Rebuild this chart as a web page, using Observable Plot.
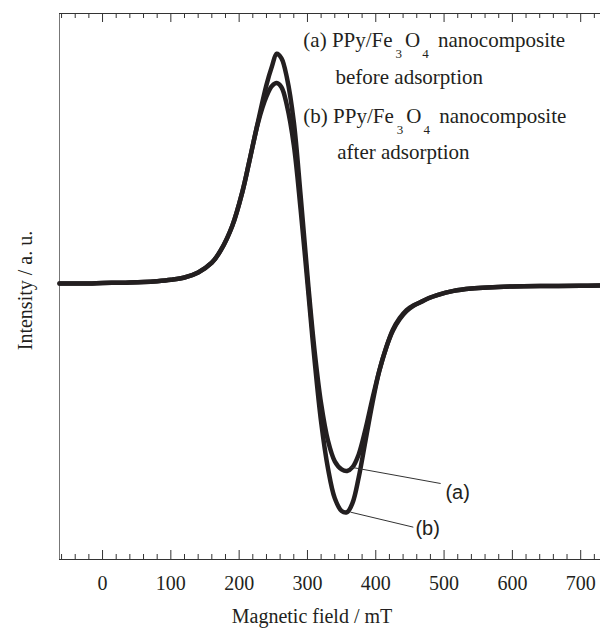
<!DOCTYPE html>
<html><head><meta charset="utf-8">
<script src="https://cdn.jsdelivr.net/npm/d3@7"></script>
<script src="https://cdn.jsdelivr.net/npm/@observablehq/plot@0.6"></script>
<style>body{margin:0;background:#fff;}</style>
</head><body><div id="chart"></div>
<script>
// Magnetic field (mT) sample positions
const field = [-63,-40,-20,0,20,40,60,80,100,120,140,160,173,190,205,215,228,240,248,255,262,270,280,290,301,310,320,330,340,350,358,366,375,385,395,405,415,425,435,445,455,466,478,490,514,540,564,600,650,700,729];
// (a) before adsorption
const intensityA = [0,0,0,0.002,0.003,0.004,0.006,0.01,0.016,0.026,0.048,0.09,0.143,0.25,0.40,0.53,0.706,0.86,0.94,0.995,0.975,0.89,0.70,0.38,0,-0.28,-0.52,-0.68,-0.77,-0.805,-0.812,-0.795,-0.74,-0.63,-0.50,-0.38,-0.28,-0.20,-0.15,-0.115,-0.095,-0.08,-0.063,-0.05,-0.032,-0.022,-0.017,-0.013,-0.011,-0.01,-0.009];
// (b) after adsorption
const intensityB = [0,0,0,0.002,0.003,0.004,0.006,0.01,0.016,0.026,0.048,0.09,0.143,0.25,0.40,0.53,0.70,0.81,0.855,0.868,0.85,0.77,0.60,0.32,-0.03,-0.32,-0.60,-0.80,-0.93,-0.985,-0.99,-0.95,-0.84,-0.68,-0.52,-0.38,-0.28,-0.205,-0.155,-0.12,-0.097,-0.08,-0.063,-0.05,-0.032,-0.022,-0.017,-0.013,-0.011,-0.01,-0.009];

const majorTicks = [0,100,200,300,400,500,600,700];
const minorTicks = [-60,-40,-20,20,40,60,80,120,140,160,180,220,240,260,280,320,340,360,380,420,440,460,480,520,540,560,580,620,640,660,680,720];

const legendText = ["(a) PPy/Fe3O4 nanocomposite","before adsorption","(b) PPy/Fe3O4 nanocomposite","after adsorption"];
const legendX = [294,341,294,343.6];
const legendY = [1.054,0.895,0.722,0.570];

const calloutLabels = ["(a)","(b)"];
const calloutFrom = [[363,-0.795],[363,-0.99]];
const calloutTo = [[495,-0.866],[455,-1.055]];
const calloutText = [[502,-0.905],[458,-1.06]];

const xTitle = "Magnetic field / mT";
const yTitle = "Intensity / a. u.";

const series = [
  ...field.map((x,i)=>({x, y:intensityA[i], s:"a"})),
  ...field.map((x,i)=>({x, y:intensityB[i], s:"b"}))
];
const legend = legendText.map((t,i)=>({t, x:legendX[i], y:legendY[i]}));
const callouts = calloutLabels.map((t,i)=>({t, x1:calloutFrom[i][0], y1:calloutFrom[i][1], x2:calloutTo[i][0], y2:calloutTo[i][1], tx:calloutText[i][0], ty:calloutText[i][1]}));

const H = 628, mT = 13, mB = 69;
const plotH = H - mT - mB;
const ink = "#231f20";

const chart = Plot.plot({
  width: 600, height: H,
  marginLeft: 59, marginRight: 0, marginTop: mT, marginBottom: mB,
  style: {fontFamily: "'Liberation Serif','Times New Roman',serif", fontSize: "20px", background: "#fff", color: ink, overflow: "visible"},
  x: {domain: [-63, 729]},
  y: {domain: [-1.195, 1.169], axis: null},
  marks: [
    Plot.frame({anchor: "left", stroke: "#777"}),
    Plot.frame({anchor: "top", stroke: "#333"}),
    Plot.frame({anchor: "bottom", stroke: "#333"}),
    Plot.tickX(majorTicks, {insetTop: plotH - 9, stroke: "#333"}),
    Plot.tickX(minorTicks, {insetTop: plotH - 5, stroke: "#333"}),
    Plot.tickX(majorTicks, {insetBottom: plotH - 9, stroke: "#333"}),
    Plot.tickX(minorTicks, {insetBottom: plotH - 5, stroke: "#333"}),
    Plot.axisX({ticks: majorTicks, tickSize: 0, tickPadding: 16, label: null, fontSize: 20}),
    Plot.text([xTitle], {frameAnchor: "bottom", textAnchor: "middle", lineAnchor: "middle", dx: -18, dy: 57, fontSize: 20, fill: ink}),
    Plot.text([yTitle], {frameAnchor: "left", textAnchor: "middle", lineAnchor: "middle", dx: -34, dy: 4, rotate: -90, fontSize: 20, fill: ink}),
    Plot.line(series, {x: "x", y: "y", z: "s", stroke: ink, strokeWidth: 4.5, curve: "catmull-rom"}),
    Plot.link(callouts, {x1: "x1", y1: "y1", x2: "x2", y2: "y2", stroke: "#333", strokeWidth: 1}),
    Plot.text(callouts, {x: "tx", y: "ty", text: "t", textAnchor: "start", fontFamily: "'Liberation Sans',Arial,sans-serif", fontSize: 20, fill: ink}),
    Plot.text(legend, {x: "x", y: "y", text: "t", textAnchor: "start", fontSize: 21, fill: ink})
  ]
});

// render chemical subscripts as real text tspans
d3.select(chart).selectAll("text").each(function() {
  const el = this;
  if (el.children.length === 0 && el.textContent.includes("Fe3O4")) {
    const [pre, post] = el.textContent.split("Fe3O4");
    el.textContent = "";
    const parts = [
      {t: pre + "Fe"},
      {t: "3", sub: true, dx: 3, dy: 11},
      {t: "O", dx: 3, dy: -11},
      {t: "4", sub: true, dx: 2, dy: 11},
      {t: post, dx: 4, dy: -11}
    ];
    for (const p of parts) {
      const ts = document.createElementNS("http://www.w3.org/2000/svg", "tspan");
      ts.textContent = p.t;
      if (p.dx) ts.setAttribute("dx", p.dx);
      if (p.dy) ts.setAttribute("dy", p.dy);
      if (p.sub) ts.setAttribute("font-size", 13);
      el.appendChild(ts);
    }
  }
});

document.getElementById("chart").appendChild(chart);
</script>
</body></html>
